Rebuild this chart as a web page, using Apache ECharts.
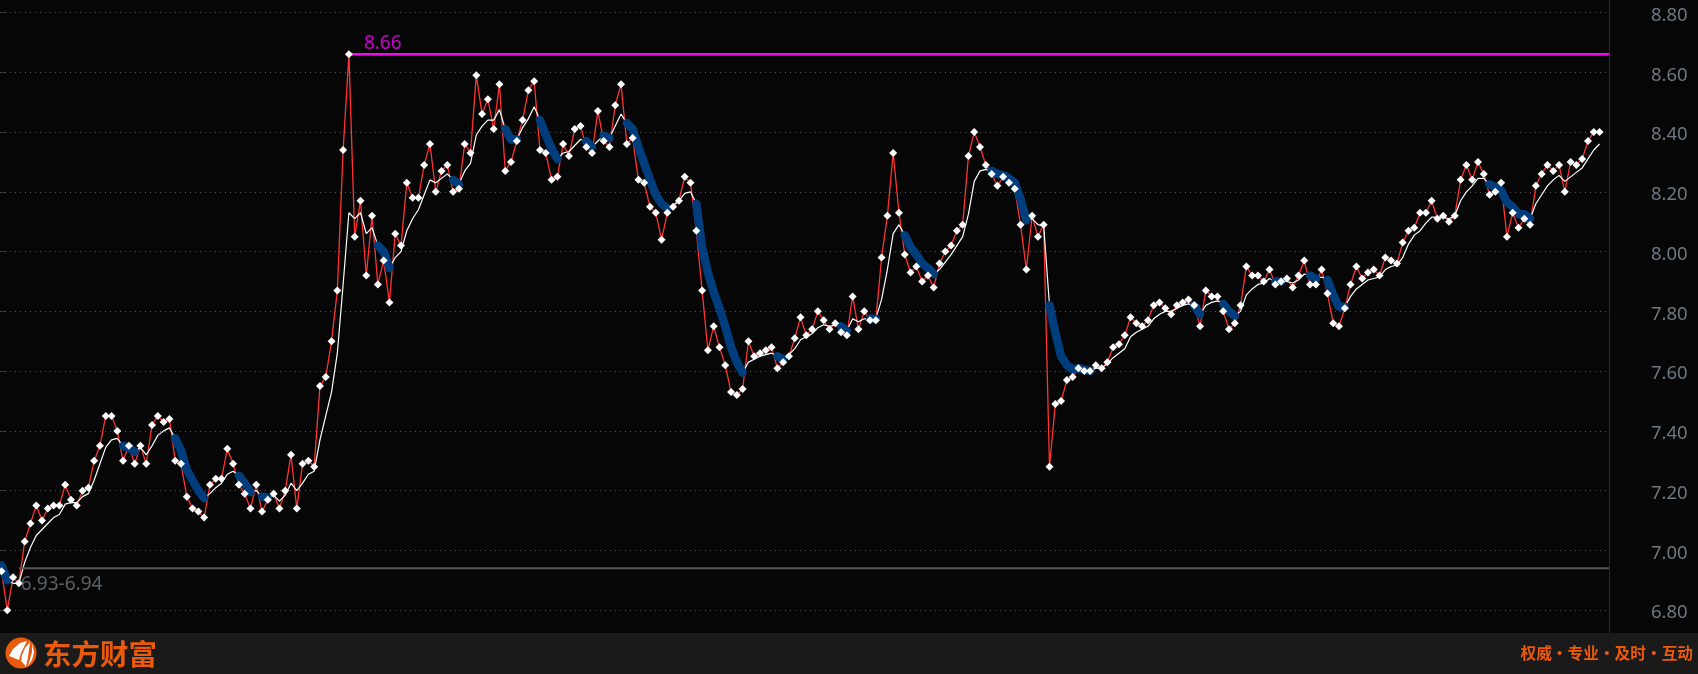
<!DOCTYPE html>
<html><head><meta charset="utf-8"><title>chart</title>
<style>html,body{margin:0;padding:0;background:#060606;overflow:hidden}#c{width:1698px;height:674px}</style>
<script src="https://cdn.jsdelivr.net/npm/echarts@6/dist/echarts.min.js"></script>
</head><body><div id="c"></div>
<script>
const closes = [
6.93,6.80,6.91,6.89,7.03,7.09,7.15,7.10,7.14,7.15,
7.15,7.22,7.17,7.15,7.20,7.21,7.30,7.35,7.45,7.45,
7.40,7.30,7.35,7.29,7.35,7.29,7.42,7.45,7.43,7.44,
7.30,7.29,7.18,7.14,7.13,7.11,7.22,7.24,7.24,7.34,
7.29,7.22,7.19,7.14,7.22,7.13,7.17,7.19,7.14,7.20,
7.32,7.14,7.29,7.30,7.28,7.55,7.58,7.70,7.87,8.34,
8.66,8.05,8.17,7.92,8.12,7.89,7.97,7.83,8.06,8.02,
8.23,8.18,8.18,8.29,8.36,8.20,8.27,8.29,8.20,8.21,
8.36,8.33,8.59,8.46,8.51,8.41,8.56,8.27,8.30,8.37,
8.44,8.54,8.57,8.34,8.33,8.24,8.25,8.36,8.32,8.41,
8.42,8.35,8.33,8.47,8.37,8.35,8.49,8.56,8.36,8.38,
8.24,8.23,8.15,8.13,8.04,8.13,8.15,8.17,8.25,8.23,
8.07,7.87,7.67,7.75,7.68,7.62,7.53,7.52,7.54,7.70,
7.65,7.66,7.67,7.68,7.61,7.63,7.65,7.71,7.78,7.72,
7.74,7.80,7.77,7.74,7.76,7.73,7.72,7.85,7.74,7.80,
7.77,7.77,7.98,8.12,8.33,8.13,7.99,7.93,7.95,7.90,
7.92,7.88,7.96,8.00,8.02,8.07,8.09,8.32,8.40,8.35,
8.29,8.26,8.22,8.25,8.23,8.21,8.09,7.94,8.12,8.05,
8.09,7.28,7.49,7.50,7.57,7.58,7.61,7.60,7.60,7.62,
7.61,7.63,7.68,7.69,7.72,7.78,7.76,7.75,7.77,7.82,
7.83,7.81,7.79,7.82,7.83,7.84,7.82,7.75,7.87,7.85,
7.85,7.80,7.74,7.76,7.82,7.95,7.92,7.92,7.90,7.94,
7.89,7.90,7.91,7.88,7.92,7.97,7.89,7.89,7.94,7.86,
7.76,7.75,7.81,7.89,7.95,7.91,7.93,7.94,7.92,7.98,
7.97,7.96,8.03,8.07,8.08,8.13,8.13,8.17,8.11,8.12,
8.10,8.12,8.24,8.29,8.24,8.30,8.26,8.19,8.20,8.23,
8.05,8.13,8.08,8.11,8.09,8.22,8.26,8.29,8.27,8.29,
8.20,8.30,8.29,8.31,8.37,8.40,8.40];
const avgLine = [
6.95,6.90,6.89,6.89,6.96,7.01,7.05,7.07,7.09,7.11,
7.12,7.155,7.16,7.16,7.18,7.19,7.235,7.29,7.345,7.37,
7.375,7.35,7.345,7.33,7.345,7.32,7.35,7.385,7.40,7.41,
7.375,7.335,7.27,7.235,7.20,7.175,7.19,7.21,7.225,7.255,
7.265,7.25,7.225,7.195,7.20,7.18,7.175,7.185,7.165,7.185,
7.225,7.20,7.225,7.255,7.265,7.37,7.45,7.53,7.66,7.89,
8.13,8.11,8.13,8.06,8.08,8.02,8.00,7.945,7.98,8.00,
8.07,8.11,8.14,8.19,8.24,8.23,8.245,8.26,8.24,8.225,
8.27,8.295,8.39,8.42,8.44,8.44,8.475,8.41,8.375,8.375,
8.415,8.445,8.485,8.44,8.39,8.345,8.31,8.33,8.335,8.355,
8.375,8.37,8.35,8.37,8.388,8.38,8.42,8.46,8.43,8.41,
8.35,8.295,8.24,8.19,8.16,8.145,8.155,8.17,8.195,8.20,
8.16,8.015,7.93,7.865,7.81,7.75,7.68,7.63,7.595,7.63,
7.64,7.65,7.655,7.66,7.65,7.64,7.655,7.675,7.705,7.715,
7.725,7.745,7.755,7.75,7.755,7.75,7.735,7.775,7.765,7.775,
7.775,7.775,7.84,7.94,8.06,8.09,8.055,8.015,7.99,7.96,
7.945,7.925,7.94,7.965,7.99,8.02,8.05,8.125,8.235,8.27,
8.275,8.27,8.26,8.255,8.245,8.23,8.175,8.105,8.11,8.09,
8.085,7.82,7.73,7.65,7.62,7.605,7.61,7.605,7.60,7.61,
7.61,7.625,7.645,7.66,7.675,7.715,7.73,7.74,7.75,7.775,
7.79,7.80,7.80,7.81,7.82,7.825,7.82,7.79,7.82,7.83,
7.835,7.825,7.80,7.785,7.80,7.855,7.875,7.89,7.895,7.91,
7.90,7.90,7.90,7.895,7.905,7.925,7.92,7.91,7.915,7.905,
7.855,7.815,7.815,7.85,7.875,7.89,7.905,7.91,7.915,7.94,
7.95,7.955,7.98,8.025,8.055,8.07,8.095,8.115,8.115,8.115,
8.11,8.12,8.17,8.20,8.22,8.245,8.245,8.225,8.215,8.205,
8.165,8.15,8.125,8.125,8.11,8.16,8.19,8.22,8.24,8.255,
8.235,8.25,8.265,8.28,8.31,8.34,8.36];
// index runs where the average line is drawn as the thick blue falling band
const fallingRuns = [[0,1],[21,23],[30,35],[41,43],[45,46],[65,67],[78,79],[87,89],[93,96],[101,102],[104,105],[108,115],[120,128],[134,135],[145,146],[150,151],[156,161],[171,177],[181,188],[206,207],[211,213],[220,221],[226,227],[229,232],[257,259],[260,264]];
const yTicks = [6.8,8.8];
const highIndex = 60, highValue = 8.66, highLabel = "8.66";
const rangeIndex = 3, rangeValue = 6.94, rangeLabel = "6.93-6.94";
const brand = "东方财富", slogan = "权威·专业·及时·互动";

const xMin = -0.259, xMax = 277.63;
const pts = a => a.map((v,i)=>[i,v]);
const falling = avgLine.map((v,i)=> fallingRuns.some(r=>i>=r[0]&&i<=r[1]) ? [i,v] : [i,null]);
const orange = '#e95a0c';

const chart = echarts.init(document.getElementById('c'),null,{renderer:'canvas'});
chart.setOption({
  animation:false, backgroundColor:'#060606',
  grid:{left:0,top:12.5,width:1609,height:597.7,containLabel:false},
  xAxis:{type:'value',min:xMin,max:xMax,show:false},
  yAxis:{type:'value',position:'right',min:yTicks[0],max:yTicks[1],interval:0.2,
    axisLine:{show:false},
    axisTick:{show:true,length:4,lineStyle:{color:'#3c3c3c'}},
    axisLabel:{color:'#6f7780',fontSize:18.5,fontFamily:'"Noto Sans",sans-serif',margin:42,align:'left',verticalAlign:'top',lineHeight:6,formatter:v=>v.toFixed(2)},
    splitLine:{show:true,lineStyle:{color:'#565656',width:1,type:[1,4]}}},
  series:[
    {type:'line',name:'close',z:2,data:pts(closes),symbol:'none',clip:false,lineStyle:{color:'#ff3333',width:1.3}},
    {type:'line',name:'avg',z:3,data:pts(avgLine),symbol:'none',clip:false,lineStyle:{color:'#ffffff',width:1.2}},
    {type:'line',name:'falling',z:4,data:falling,symbol:'none',connectNulls:false,clip:false,lineStyle:{color:'#003d7c',width:8.5,cap:'round',join:'round'}},
    {type:'line',name:'range',z:5,data:[[rangeIndex,rangeValue],[xMax,rangeValue]],symbol:'none',clip:false,lineStyle:{color:'#555555',width:2}},
    {type:'line',name:'high',z:5,data:[[highIndex,highValue],[xMax,highValue]],symbol:'none',clip:false,lineStyle:{color:'#ff00ff',width:2.5}},
    {type:'scatter',name:'closePts',z:6,data:pts(closes),symbol:'diamond',symbolSize:8,clip:false,itemStyle:{color:'#ffffff',opacity:1}},
    {type:'scatter',name:'labels',z:7,symbolSize:0,clip:false,silent:true,data:[
      {value:[highIndex,highValue],label:{show:true,position:'right',formatter:highLabel,color:'#ff00ff',fontSize:19,fontFamily:'"Noto Sans",sans-serif',offset:[10,-11]}},
      {value:[rangeIndex,rangeValue],label:{show:true,position:'right',formatter:rangeLabel,color:'#70787e',fontSize:19,fontFamily:'"Noto Sans",sans-serif',offset:[-3,16]}}
    ]}
  ],
  graphic:[
    {type:'rect',z:1,silent:true,shape:{x:0,y:633,width:1698,height:41},style:{fill:'#1a1a1a'}},
    {type:'line',z:1,silent:true,shape:{x1:1609.5,y1:0,x2:1609.5,y2:633},style:{stroke:'#2a2a2a',lineWidth:1}},
    {type:'circle',z:1,silent:true,shape:{cx:21,cy:653,r:15.5},style:{fill:orange}},
    {type:'polygon',z:2,silent:true,shape:{points:[[27,641],[20,643],[13,649],[9,656],[14,658],[19,660],[21,653]]},style:{fill:'#fff'}},
    {type:'polygon',z:2,silent:true,shape:{points:[[30,642],[25,648],[22,655],[21,661],[24,664],[26,667],[28,657]]},style:{fill:'#fff'}},
    {type:'polygon',z:2,silent:true,shape:{points:[[32,644],[32,652],[28,666],[32,660],[34,652]]},style:{fill:'#fff'}},
    {type:'text',z:1,silent:true,style:{x:43,y:654,text:brand,fill:orange,font:'bold 28.5px "Noto Sans CJK SC"',verticalAlign:'middle'}},
    {type:'text',z:1,silent:true,style:{x:1693,y:653.5,text:slogan,fill:'#ee5a0c',font:'bold 15.7px "Noto Sans CJK SC"',align:'right',verticalAlign:'middle'}}
  ]
});
</script></body></html>
